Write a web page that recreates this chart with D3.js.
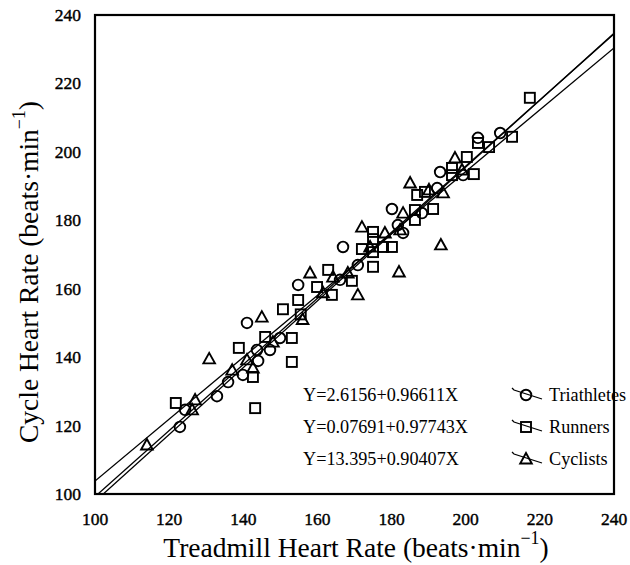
<!DOCTYPE html>
<html>
<head>
<meta charset="utf-8">
<script src="https://cdn.jsdelivr.net/npm/d3@7"></script>
<style>
body { margin: 0; background: #fff; }
svg text { font-family: "Liberation Serif", "Times New Roman", serif; fill: #000; }
</style>
</head>
<body>
<div id="chart"></div>
<script>
var xTicks = [100, 120, 140, 160, 180, 200, 220, 240];
var yTicks = [100, 120, 140, 160, 180, 200, 220, 240];

// [treadmill, cycle]
var triathletes = [
    [122.9, 119.6], [124.3, 124.6], [132.9, 128.6], [135.9, 132.7], [139.9, 134.8],
    [144, 138.9], [141, 150], [143.7, 142.1], [147.2, 142.1], [149.9, 145.6],
    [154.8, 161.1], [166.1, 162.6], [166.9, 172.2], [170.9, 166.9], [180.1, 183.3],
    [181.7, 178.6], [183.1, 176.3], [188.2, 182.1], [192.3, 189.4], [193.1, 194.1],
    [199.3, 193.2], [203.3, 204.1], [209.3, 205.5]
];
var runners = [
    [121.8, 126.6], [143.2, 125.1], [138.8, 142.7], [142.6, 134.2], [145.9, 145.9],
    [150.7, 154], [153.1, 145.6], [153.1, 138.6], [154.8, 156.7], [155.5, 152.5],
    [159.9, 160.5], [163.9, 158.2], [162.9, 165.5], [169.3, 162.3], [175, 166.4],
    [172, 171.6], [175, 170.7], [177.7, 172.2], [180.1, 172.2], [175, 174.5],
    [175, 176.6], [186.3, 180.1], [186.3, 183], [191.2, 183.3], [186.9, 187.4],
    [189, 188.3], [196.3, 193.2], [196.3, 195.3], [202.2, 193.5], [200.3, 198.5],
    [203.3, 202.6], [206.3, 201.4], [212.5, 204.4], [217.3, 215.8]
];
var cyclists = [
    [114, 114.3], [126.2, 124.6], [127, 127.5], [130.8, 139.5], [137, 136.2],
    [142.6, 136.8], [141, 139.2], [145, 151.7], [148, 144.4], [156, 151],
    [158, 164.6], [161.5, 158.8], [164.2, 163.4], [168.2, 164.6], [170.9, 158.2],
    [172, 178], [174.2, 172.2], [178.2, 176.3], [182.3, 177.2], [182, 164.9],
    [183.1, 182.1], [185, 190.9], [190.1, 188.9], [193.9, 188], [193.3, 172.8],
    [197.1, 198.2], [199, 194.7]
];

// regression lines: intercept, slope
var fits = [
    {name: "Triathletes", a: 2.6156, b: 0.96611, eq: "Y=2.6156+0.96611X", shape: "circle"},
    {name: "Runners", a: 0.07691, b: 0.97743, eq: "Y=0.07691+0.97743X", shape: "square"},
    {name: "Cyclists", a: 13.395, b: 0.90407, eq: "Y=13.395+0.90407X", shape: "triangle"}
];

var width = 630, height = 565;
var margin = {top: 15, right: 16, bottom: 71, left: 95};

var svg = d3.select("#chart").append("svg")
    .attr("width", width)
    .attr("height", height);

var x = d3.scaleLinear().domain([100, 240]).range([margin.left, width - margin.right]);
var y = d3.scaleLinear().domain([100, 240]).range([height - margin.bottom, margin.top]);

svg.append("clipPath").attr("id", "clip")
    .append("rect")
    .attr("x", x(100)).attr("y", y(240))
    .attr("width", x(240) - x(100)).attr("height", y(100) - y(240));

// fit lines
var plot = svg.append("g").attr("clip-path", "url(#clip)");
fits.forEach(function(f) {
    plot.append("line")
        .attr("x1", x(100)).attr("y1", y(f.a + f.b * 100))
        .attr("x2", x(240)).attr("y2", y(f.a + f.b * 240))
        .attr("stroke", "#000")
        .attr("stroke-width", 1.3);
});

function drawMarker(g, shape, cx, cy) {
    if (shape == "circle") {
        g.append("circle").attr("cx", cx).attr("cy", cy).attr("r", 5.3)
            .attr("fill", "none").attr("stroke", "#000").attr("stroke-width", 1.9);
    } else if (shape == "square") {
        g.append("rect").attr("x", cx - 5).attr("y", cy - 5).attr("width", 10).attr("height", 10)
            .attr("fill", "none").attr("stroke", "#000").attr("stroke-width", 1.9);
    } else {
        g.append("path")
            .attr("d", "M" + cx + "," + (cy - 6) + "L" + (cx + 5.8) + "," + (cy + 4.5) + "L" + (cx - 5.8) + "," + (cy + 4.5) + "Z")
            .attr("fill", "none").attr("stroke", "#000").attr("stroke-width", 1.9)
            .attr("stroke-linejoin", "miter");
    }
}

var pts = svg.append("g");
triathletes.forEach(function(d) { drawMarker(pts, "circle", x(d[0]), y(d[1])); });
runners.forEach(function(d) { drawMarker(pts, "square", x(d[0]), y(d[1])); });
cyclists.forEach(function(d) { drawMarker(pts, "triangle", x(d[0]), y(d[1])); });

// frame
svg.append("rect")
    .attr("x", x(100)).attr("y", y(240))
    .attr("width", x(240) - x(100)).attr("height", y(100) - y(240))
    .attr("fill", "none").attr("stroke", "#000").attr("stroke-width", 2.2);

// tick labels (scan looks a bit heavy)
svg.append("g").selectAll("text").data(xTicks).enter().append("text")
    .attr("x", function(d) { return x(d); })
    .attr("y", 525)
    .attr("text-anchor", "middle")
    .attr("font-size", 17.5)
    .attr("stroke", "#000").attr("stroke-width", 0.4)
    .text(function(d) { return d; });

svg.append("g").selectAll("text").data(yTicks).enter().append("text")
    .attr("x", 81)
    .attr("y", function(d) { return y(d) + 6; })
    .attr("text-anchor", "end")
    .attr("font-size", 17.5)
    .attr("stroke", "#000").attr("stroke-width", 0.4)
    .text(function(d) { return d; });

// axis titles
function title(t, label) {
    t.append("tspan").text(label + " (beats\u00b7min");
    t.append("tspan").attr("font-size", "0.65em").attr("dy", "-0.75em").text("\u22121");
    t.append("tspan").attr("dy", "0.5em").text(")");
}

var xt = svg.append("text")
    .attr("x", 356).attr("y", 557)
    .attr("text-anchor", "middle")
    .attr("font-size", 27.5);
title(xt, "Treadmill Heart Rate");

var yt = svg.append("text")
    .attr("transform", "translate(38," + 272 + ") rotate(-90)")
    .attr("text-anchor", "middle")
    .attr("font-size", 27.5);
title(yt, "Cycle Heart Rate");

// legend
var legend = svg.append("g");
fits.forEach(function(f, i) {
    var ly = 395 + i * 32;
    legend.append("text")
        .attr("x", 303).attr("y", ly + 6)
        .attr("font-size", 18.2)
        .text(f.eq);
    legend.append("path")
        .attr("d", "M512," + (ly - 7) + "L514," + (ly - 5) + "L542," + (ly + 4))
        .attr("fill", "none").attr("stroke", "#000").attr("stroke-width", 1.3);
    drawMarker(legend, f.shape, 526, ly);
    legend.append("text")
        .attr("x", 549).attr("y", ly + 6)
        .attr("font-size", 18.2)
        .text(f.name);
});
</script>
</body>
</html>
